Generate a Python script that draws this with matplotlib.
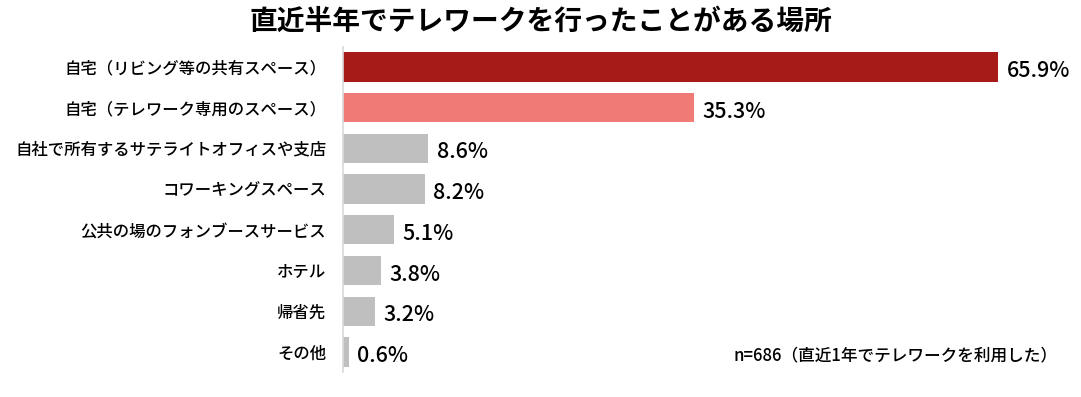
import numpy as np
import matplotlib
matplotlib.use("Agg")
from matplotlib import pyplot as plt

plt.rcParams['font.family'] = ['Noto Sans CJK JP', 'DejaVu Sans']

# data
places = ["自宅（リビング等の共有スペース）", "自宅（テレワーク専用のスペース）",
          "自社で所有するサテライトオフィスや支店", "コワーキングスペース",
          "公共の場のフォンブースサービス", "ホテル", "帰省先", "その他"]
shares = [65.9, 35.3, 8.6, 8.2, 5.1, 3.8, 3.2, 0.6]
colors = ["#A61B17", "#F07B76"] + ["#BFBFBF"] * 6

fig = plt.figure(figsize=(10.81, 3.97), dpi=100)
ax = fig.add_axes([343/1081, 0.0622, 738/1081, 0.8203])

y = np.arange(len(places))
ax.barh(y, shares, height=0.72, color=colors)
ax.set_xlim(0, 738/9.94)
ax.set_ylim(len(places) - 0.5, -0.5)

# value labels next to each bar
for yi, v in zip(y, shares):
    ax.text(v + 0.85, yi + 0.1, f"{v}%", va='center', ha='left', fontsize=15.5,
            fontweight='medium', color='black')

ax.set_yticks(y)
ax.set_yticklabels(places, fontsize=11.8, fontweight='medium')
ax.tick_params(axis='y', length=0, pad=12)
ax.set_xticks([])
for s in ['top', 'right', 'bottom']:
    ax.spines[s].set_visible(False)
ax.spines['left'].set_color('#D9D9D9')
ax.spines['left'].set_linewidth(1.2)

fig.text(0.5, 0.945, "直近半年でテレワークを行ったことがある場所", ha='center', va='center',
         fontsize=20, fontweight='bold')
fig.text(0.978, 0.106, "n=686（直近1年でテレワークを利用した）", ha='right', va='center',
         fontsize=12, fontweight='medium')

fig.savefig("out.png", dpi=100)
